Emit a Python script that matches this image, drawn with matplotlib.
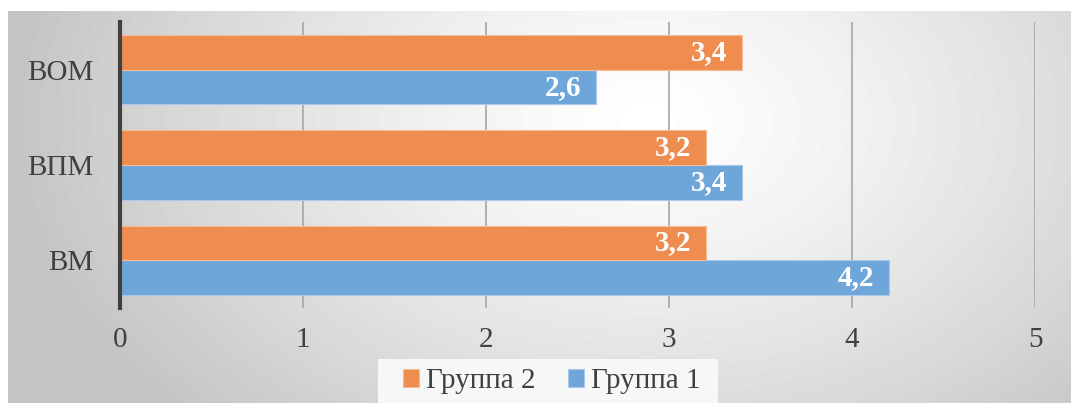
import numpy as np
import matplotlib.pyplot as plt
from matplotlib.patches import Rectangle

categories = ['ВМ', 'ВПМ', 'ВОМ']
group1 = [4.2, 3.4, 2.6]
group2 = [3.2, 3.2, 3.4]
labels1 = ['4,2', '3,4', '2,6']
labels2 = ['3,2', '3,2', '3,4']
xticks = [0, 1, 2, 3, 4, 5]

blue = '#6fa6da'
orange = '#ee8d4f'

plt.rcParams['font.family'] = ['Liberation Serif', 'DejaVu Serif']

fig = plt.figure(figsize=(10.71, 4.03), dpi=100)

# radial gradient background
bg = fig.add_axes([8/1071, 0, 1 - 8/1071, 1 - 11/403])
bg.set_axis_off()
yy, xx = np.mgrid[0:392, 0:1063]
cx, cy = 640, 110
d = np.sqrt(((xx - cx) / 640.0) ** 2 + ((yy - cy) / 430.0) ** 2)
val = 1.0 - 0.23 * np.clip(d, 0, 1) ** 1.3
bg.imshow(val, cmap='gray', vmin=0, vmax=1, aspect='auto',
          extent=[0, 1, 0, 1], origin='upper')
bg.set_xlim(0, 1)
bg.set_ylim(0, 1)

# legend background box
fig.patches.append(Rectangle((378/1071, 0), 340/1071, 44/403, transform=fig.transFigure,
                             facecolor='#f7f7f7', edgecolor='none', zorder=0.5))

ax = fig.add_axes([120/1071, 1 - 308/403, 915/1071, 286/403])
ax.patch.set_alpha(0)
y = np.arange(len(categories))
h = 0.365
b1 = ax.barh(y - h/2, group1, height=h, color=blue, edgecolor='#a9c9ea', linewidth=0.8, zorder=3, label='Группа 1')
b2 = ax.barh(y + h/2, group2, height=h, color=orange, edgecolor='#f5bb98', linewidth=0.8, zorder=3, label='Группа 2')

for bars, labs in ((b1, labels1), (b2, labels2)):
    for bar, lab in zip(bars, labs):
        ax.text(bar.get_width() - 0.08, bar.get_y() + bar.get_height()/2, lab,
                ha='right', va='center', color='white', fontsize=21,
                fontweight='bold', zorder=4)

ax.set_xlim(0, 5)
ax.set_ylim(-0.5, 2.5)
ax.set_xticks(xticks)
ax.set_xticklabels([str(t) for t in xticks])
ax.set_yticks(y)
ax.set_yticklabels(categories)
ax.tick_params(axis='both', length=0, labelsize=21, labelcolor='#404040')
ax.tick_params(axis='x', pad=14)
ax.tick_params(axis='y', pad=19)
ax.grid(axis='x', color='#a6a6a6', linewidth=1.2, zorder=0)
for s in ['top', 'right', 'bottom']:
    ax.spines[s].set_visible(False)
ax.spines['left'].set_color('#404040')
ax.spines['left'].set_linewidth(3)
ax.spines['left'].set_zorder(5)

handles = [b2, b1]
leg = fig.legend(handles, ['Группа 2', 'Группа 1'], loc='lower center',
                 bbox_to_anchor=(552/1071, 0.0), ncol=2, fontsize=21,
                 frameon=False, handlelength=0.55, handleheight=0.55,
                 handletextpad=0.25, columnspacing=1.1, borderpad=0.3,
                 borderaxespad=0.0)
for t in leg.get_texts():
    t.set_color('#404040')

fig.savefig('out.png', dpi=100)
